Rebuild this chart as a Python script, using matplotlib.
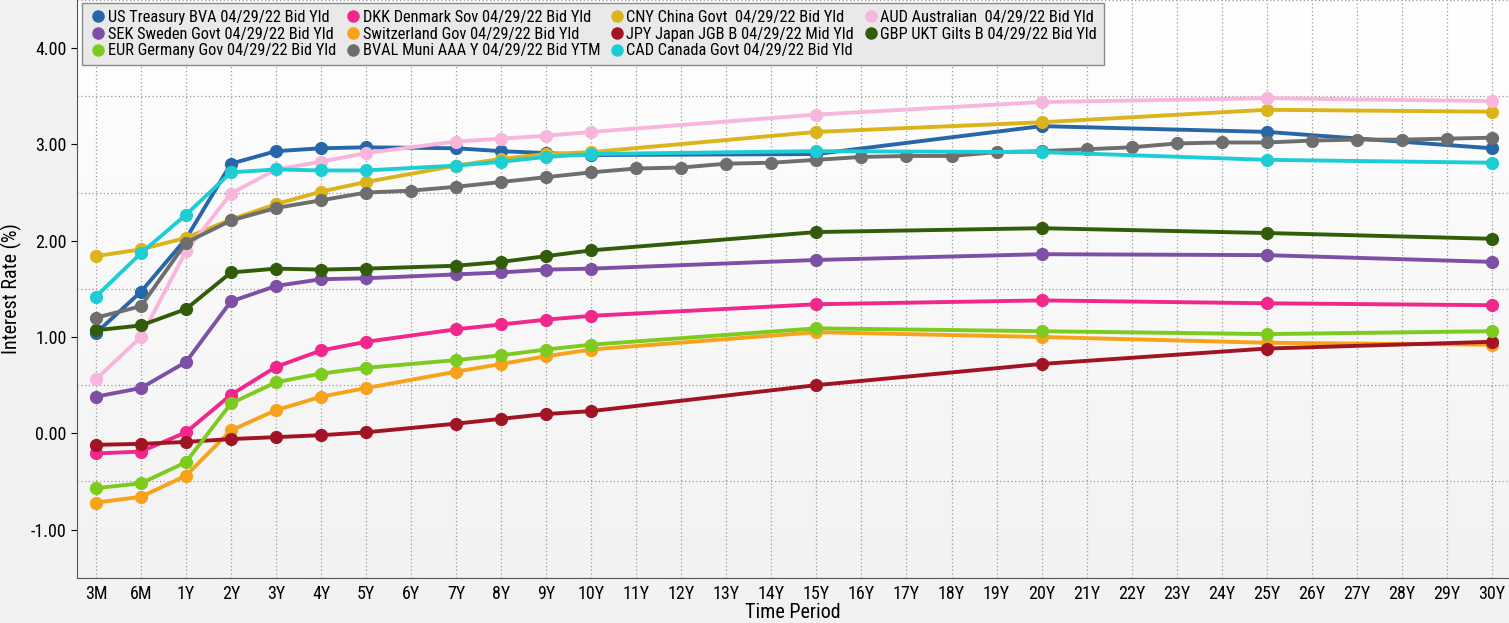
import matplotlib
matplotlib.use("Agg")
import matplotlib.pyplot as plt
import numpy as np
from matplotlib import font_manager
from matplotlib.colors import LinearSegmentedColormap
from matplotlib.lines import Line2D

periods = ["3M", "6M", "1Y", "2Y", "3Y", "4Y", "5Y", "6Y", "7Y", "8Y", "9Y", "10Y",
           "11Y", "12Y", "13Y", "14Y", "15Y", "16Y", "17Y", "18Y", "19Y", "20Y",
           "21Y", "22Y", "23Y", "24Y", "25Y", "26Y", "27Y", "28Y", "29Y", "30Y"]

# tenors quoted by most of the curves
tenors = ["3M", "6M", "1Y", "2Y", "3Y", "4Y", "5Y", "7Y", "8Y", "9Y", "10Y",
          "15Y", "20Y", "25Y", "30Y"]

us_treasury = [1.04, 1.47, 2.02, 2.80, 2.93, 2.96, 2.97, 2.96, 2.93, 2.91, 2.89, 2.90, 3.19, 3.13, 2.96]
dkk_denmark = [-0.21, -0.19, 0.01, 0.40, 0.69, 0.86, 0.95, 1.08, 1.13, 1.18, 1.22, 1.34, 1.38, 1.35, 1.33]
cny_china = [1.84, 1.91, 2.03, 2.22, 2.38, 2.51, 2.61, 2.78, 2.85, 2.90, 2.92, 3.13, 3.23, 3.36, 3.34]
aud_australia = [0.56, 1.00, 1.89, 2.49, 2.74, 2.82, 2.91, 3.03, 3.06, 3.09, 3.13, 3.31, 3.44, 3.48, 3.45]
sek_sweden = [0.38, 0.47, 0.74, 1.37, 1.53, 1.60, 1.61, 1.65, 1.67, 1.70, 1.71, 1.80, 1.86, 1.85, 1.78]
chf_switzerland = [-0.72, -0.66, -0.44, 0.03, 0.24, 0.38, 0.47, 0.64, 0.72, 0.80, 0.87, 1.05, 1.00, 0.94, 0.92]
jpy_japan = [-0.12, -0.11, -0.09, -0.06, -0.04, -0.02, 0.01, 0.10, 0.15, 0.20, 0.23, 0.50, 0.72, 0.88, 0.95]
gbp_gilts = [1.07, 1.12, 1.29, 1.67, 1.71, 1.70, 1.71, 1.74, 1.78, 1.84, 1.90, 2.09, 2.13, 2.08, 2.02]
eur_germany = [-0.57, -0.52, -0.30, 0.31, 0.53, 0.62, 0.68, 0.76, 0.81, 0.87, 0.92, 1.09, 1.06, 1.03, 1.06]
cad_canada = [1.42, 1.87, 2.27, 2.71, 2.74, 2.73, 2.73, 2.78, 2.82, 2.87, 2.90, 2.93, 2.92, 2.84, 2.81]

# muni curve is quoted at every tenor
bval_muni = [1.20, 1.32, 1.98, 2.21, 2.34, 2.42, 2.50, 2.52, 2.56, 2.61, 2.66, 2.71,
             2.75, 2.76, 2.80, 2.81, 2.84, 2.87, 2.88, 2.88, 2.92, 2.93,
             2.95, 2.97, 3.01, 3.02, 3.02, 3.04, 3.05, 3.05, 3.06, 3.07]

# drawing order (later on top)
series = [
    ("US Treasury BVA 04/29/22 Bid Yld", tenors, us_treasury, "#2767a9"),
    ("DKK Denmark Sov 04/29/22 Bid Yld", tenors, dkk_denmark, "#f0288c"),
    ("CNY China Govt  04/29/22 Bid Yld", tenors, cny_china, "#dbb41c"),
    ("AUD Australian  04/29/22 Bid Yld", tenors, aud_australia, "#f9b6dc"),
    ("SEK Sweden Govt 04/29/22 Bid Yld", tenors, sek_sweden, "#7d4fa5"),
    ("Switzerland Gov 04/29/22 Bid Yld", tenors, chf_switzerland, "#f7a21b"),
    ("JPY Japan JGB B 04/29/22 Mid Yld", tenors, jpy_japan, "#a01423"),
    ("GBP UKT Gilts B 04/29/22 Bid Yld", tenors, gbp_gilts, "#335c0a"),
    ("EUR Germany Gov 04/29/22 Bid Yld", tenors, eur_germany, "#7dcb1e"),
    ("BVAL Muni AAA Y 04/29/22 Bid YTM", periods, bval_muni, "#6e6e6e"),
    ("CAD Canada Govt 04/29/22 Bid Yld", tenors, cad_canada, "#1ecdd4"),
]

installed = {f.name for f in font_manager.fontManager.ttflist}
for cand in ["Liberation Sans Narrow", "DejaVu Sans Condensed", "Roboto Condensed", "Open Sans Condensed"]:
    if cand in installed:
        plt.rcParams["font.family"] = [cand, "DejaVu Sans"]
        narrow = True
        break
else:
    plt.rcParams["font.family"] = ["DejaVu Sans"]
    narrow = False

fig = plt.figure(figsize=(15.09, 6.23), dpi=100, facecolor="#f2f2f2")
ax = fig.add_axes([77 / 1509, 45.3 / 623, 1 - 77 / 1509, 577.7 / 623])

grad = LinearSegmentedColormap.from_list("bg", ["#f2f2f2", "#ffffff"])
ax.imshow(np.linspace(0, 1, 256)[:, None], extent=[0, 1, 0, 1], origin="lower",
          transform=ax.transAxes, cmap=grad, aspect="auto", zorder=0)

handles = []
for name, xs, ys, color in series:
    xi = [periods.index(t) for t in xs]
    ax.plot(xi, ys, color=color, lw=2.8, marker="o", ms=8.5, zorder=3,
            solid_capstyle="round")
    handles.append(Line2D([], [], ls="none", marker="o", ms=8, color=color, label=name))

ax.set_xlim(-0.42, 31.38)
ax.set_ylim(-1.48, 4.47)
ax.set_xticks(range(len(periods)))
ax.set_xticklabels(periods)
ax.set_yticks(np.arange(-1, 5))
ax.set_yticklabels([f"{v:.2f}" for v in np.arange(-1, 5)])
ax.set_yticks(np.arange(-1.5, 4.6, 0.5), minor=True)
ax.grid(True, which="major", axis="x", ls=(0, (1, 2)), color="#9a9a9a", lw=0.9)
ax.grid(True, which="minor", axis="y", ls=(0, (1, 2)), color="#9a9a9a", lw=0.9)
ax.tick_params(axis="x", length=0, labelsize=13, pad=5)
ax.tick_params(axis="y", which="major", length=4, direction="out", labelsize=13)
ax.tick_params(axis="y", which="minor", length=0)
for s in ["top", "right"]:
    ax.spines[s].set_visible(False)
for s in ["left", "bottom"]:
    ax.spines[s].set_color("#555555")

ax.set_xlabel("Time Period", fontsize=14.5, labelpad=0)
ax.set_ylabel("Interest Rate (%)", fontsize=14.5, labelpad=6)

# legend fills column by column, so reorder from row order
ncol = 4
order = []
for c in range(ncol):
    order += list(range(c, len(handles), ncol))
leg = fig.legend([handles[i] for i in order], [handles[i].get_label() for i in order],
                 ncol=ncol, loc="upper left", bbox_to_anchor=(82 / 1509, 1 - 3 / 623),
                 fontsize=11.8 if narrow else 9.5, frameon=True, fancybox=False,
                 facecolor="#e9e9e9", edgecolor="#8a8a8a", framealpha=1,
                 handletextpad=0.0, columnspacing=0.4, labelspacing=0.12,
                 borderpad=0.4, handlelength=1.2, borderaxespad=0)
leg.set_zorder(10)

fig.savefig("out.png", dpi=100, facecolor=fig.get_facecolor())
